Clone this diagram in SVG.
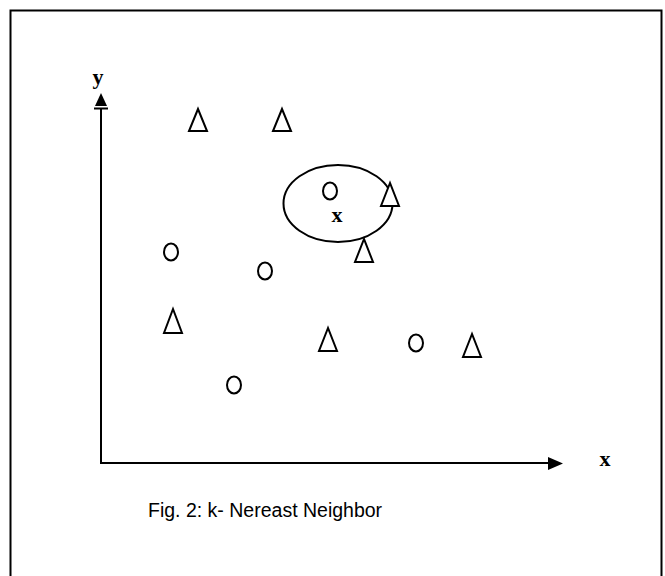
<svg xmlns="http://www.w3.org/2000/svg" width="665" height="576" viewBox="0 0 665 576">
<style>
.tri{fill:#fff;stroke:#000;stroke-width:2;stroke-linejoin:miter}
.pt{fill:none;stroke:#000;stroke-width:2}
.ax{stroke:#000;stroke-width:2;fill:none}
.lbl{font-family:"Liberation Serif","Times New Roman",serif;font-weight:bold;font-size:22px;fill:#000}
.cap{font-family:"Liberation Sans",Arial,sans-serif;font-size:19.5px;fill:#000}
</style>
<rect width="665" height="576" fill="#fff"/>
<path d="M10.5 590 V10.5 H661.5 V590" fill="none" stroke="#000" stroke-width="2"/>
<g id="axes">
<line class="ax" x1="101" y1="109" x2="101" y2="463"/>
<line class="ax" x1="100" y1="463" x2="549" y2="463"/>
<polygon points="101,93 95,106 107,106" fill="#000"/>
<line class="ax" x1="94" y1="108.5" x2="108" y2="108.5"/>
<polygon points="548,457 563,463.5 548,470" fill="#000"/>
<text class="lbl" x="98" y="84" text-anchor="middle">y</text>
<text class="lbl" x="605" y="466" text-anchor="middle">x</text>
</g>
<g id="neighborhood">
<ellipse class="pt" cx="338" cy="203.5" rx="54.5" ry="38.5"/>
<text class="lbl" x="337" y="222" text-anchor="middle">x</text>
</g>
<g id="circles">
<ellipse class="pt" cx="330" cy="191" rx="7" ry="8.5"/>
<ellipse class="pt" cx="171" cy="252" rx="7" ry="8.5"/>
<ellipse class="pt" cx="265" cy="271" rx="7" ry="8.5"/>
<ellipse class="pt" cx="234" cy="385" rx="7" ry="8.5"/>
<ellipse class="pt" cx="416" cy="343" rx="7" ry="8.5"/>
</g>
<g id="triangles">
<polygon class="tri" points="198,109 189,131 207,131"/>
<polygon class="tri" points="282,109 273,131 291,131"/>
<polygon class="tri" points="390,183 381,206 399,206"/>
<polygon class="tri" points="364,239 355,262 373,262"/>
<polygon class="tri" points="173,309 164,333 182,333"/>
<polygon class="tri" points="328,328 319,351 337,351"/>
<polygon class="tri" points="472,334 463,357 481,357"/>
</g>
<text class="cap" x="148" y="517">Fig. 2: k- Nereast Neighbor</text>
</svg>
